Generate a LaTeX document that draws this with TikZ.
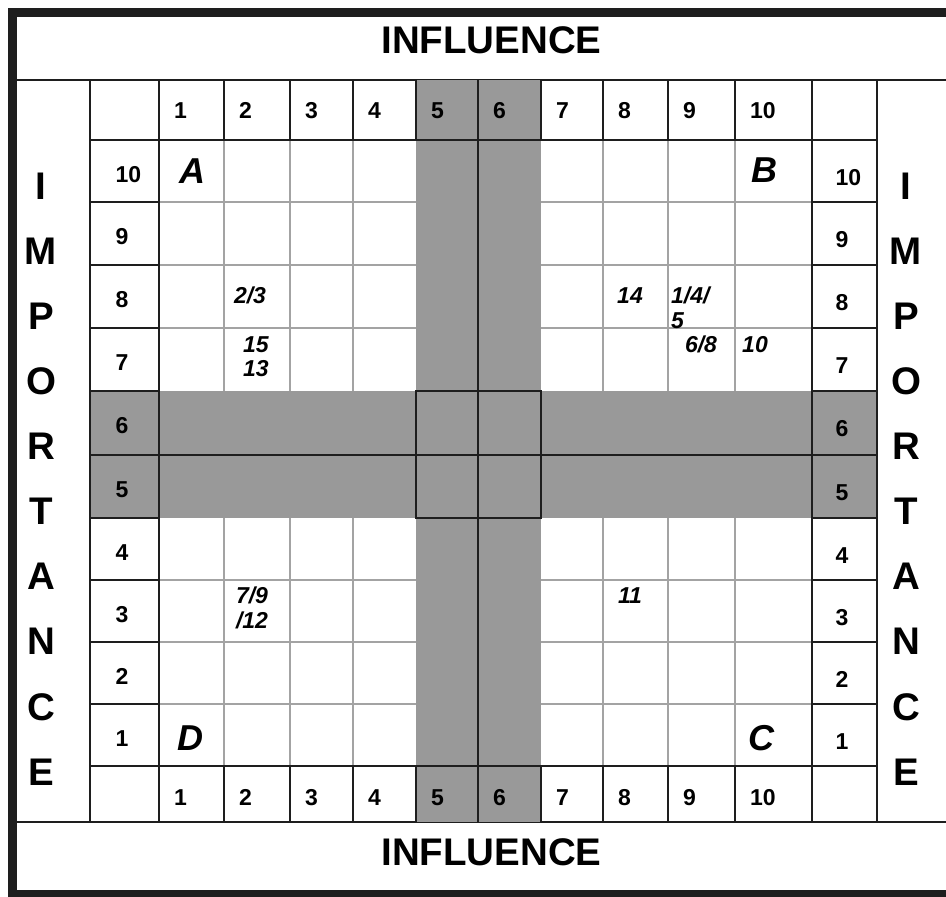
\documentclass[tikz,border=0pt]{standalone}
\usepackage{fontspec}
\setmainfont{Liberation Sans}
\definecolor{bandgray}{HTML}{999999}
\definecolor{gridgray}{HTML}{A3A3A3}
\definecolor{inkblack}{HTML}{1E1E1E}

\begin{document}
\begin{tikzpicture}[x=1pt,y=-1pt,
  numlab/.style={font=\fontsize{23}{26}\selectfont\bfseries,anchor=base west,inner sep=0pt},
  bigword/.style={font=\fontsize{38.5}{40}\selectfont\bfseries,inner sep=0pt},
  quadlab/.style={font=\fontsize{36}{38}\selectfont\bfseries\itshape,inner sep=0pt},
  entry/.style={font=\fontsize{23}{26}\selectfont\bfseries\itshape,anchor=base,inner sep=0pt},
  thinline/.style={draw=gridgray,line width=2pt},
  boldline/.style={draw=inkblack,line width=2.6pt}]
% importance/influence grid, 10x10 cells; columns and rows 5-6 shaded as a cross.
% pixel-like units, y running down.
\useasboundingbox (0,0) rectangle (946,897);
\clip (0,0) rectangle (946,897);
% outer frame (right side runs off the page)
\draw[line width=8.5pt,inkblack] (12.5,12.5) rectangle (960,894);
\draw[boldline] (17,80) -- (946,80);
\draw[boldline] (17,822) -- (946,822);
% light grid in the white cells
\foreach \xx in {224,290,353,603,668,735} \draw[thinline] (\xx,140) -- (\xx,766);
\foreach \yy in {202,265,328,580,642,704} \draw[thinline] (159,\yy) -- (812,\yy);
% shaded cross (influence 5-6, importance 5-6)
\fill[bandgray] (416,80) rectangle (541,822);
\fill[bandgray] (90,391) rectangle (877,518);
% heavy lines: label columns, header and footer rows
\foreach \xx in {90,159,812,877} \draw[boldline] (\xx,80) -- (\xx,822);
\draw[boldline] (90,140) -- (877,140);
\draw[boldline] (90,766) -- (877,766);
\foreach \xx in {224,290,353,416,541,603,668,735} {
  \draw[boldline] (\xx,80) -- (\xx,140);
  \draw[boldline] (\xx,766) -- (\xx,822);
}
\foreach \yy in {202,265,328,391,518,580,642,704} {
  \draw[boldline] (90,\yy) -- (159,\yy);
  \draw[boldline] (812,\yy) -- (877,\yy);
}
% centre cross and centre square
\draw[boldline] (478,80) -- (478,822);
\draw[boldline] (90,455) -- (877,455);
\draw[boldline] (416,391) rectangle (541,518);
% titles
\node[bigword] (infltop) at (491.5,40.5) {INFLUENCE};
\node[bigword] (inflbot) at (491.5,852) {INFLUENCE};
\foreach \ch [count=\k from 0] in {I,M,P,O,R,T,A,N,C,E} {
  \node[bigword] (impl\k) at (41,{186+65.1*\k}) {\ch};
  \node[bigword] (impr\k) at (906,{186+65.1*\k}) {\ch};
}
% influence scale (top and bottom)
\foreach \n/\xx in {1/159,2/224,3/290,4/353,5/416,6/478,7/541,8/603,9/668,10/735} {
  \node[numlab] (top\n) at ({\xx+15},118) {\n};
  \node[numlab] (bot\n) at ({\xx+15},805) {\n};
}
% importance scale (left and right)
\foreach \n/\yy in {10/140,9/202,8/265,7/328,6/391,5/455,4/518,3/580,2/642,1/704} {
  \node[numlab] (lft\n) at (115.5,{\yy+42}) {\n};
  \node[numlab] (rgt\n) at (835.5,{\yy+45}) {\n};
}
% quadrants
\node[quadlab] (quadA) at (192,171) {A};
\node[quadlab] (quadB) at (764,170) {B};
\node[quadlab] (quadC) at (761,738) {C};
\node[quadlab] (quadD) at (190,738) {D};
% plotted items
\node[entry] (it23) at (250,303) {2/3};
\node[entry] (it15) at (256,352) {15};
\node[entry] (it13) at (256,376) {13};
\node[entry] (it14) at (630,303) {14};
\node[entry,anchor=base west] (it145a) at (671,303) {1/4/};
\node[entry,anchor=base west] (it145b) at (671,328) {5};
\node[entry] (it68) at (701,352) {6/8};
\node[entry] (it10) at (755,352) {10};
\node[entry] (it79a) at (252,603) {7/9};
\node[entry] (it79b) at (252,628) {/12};
\node[entry] (it11) at (630,603) {11};
\end{tikzpicture}
\end{document}
